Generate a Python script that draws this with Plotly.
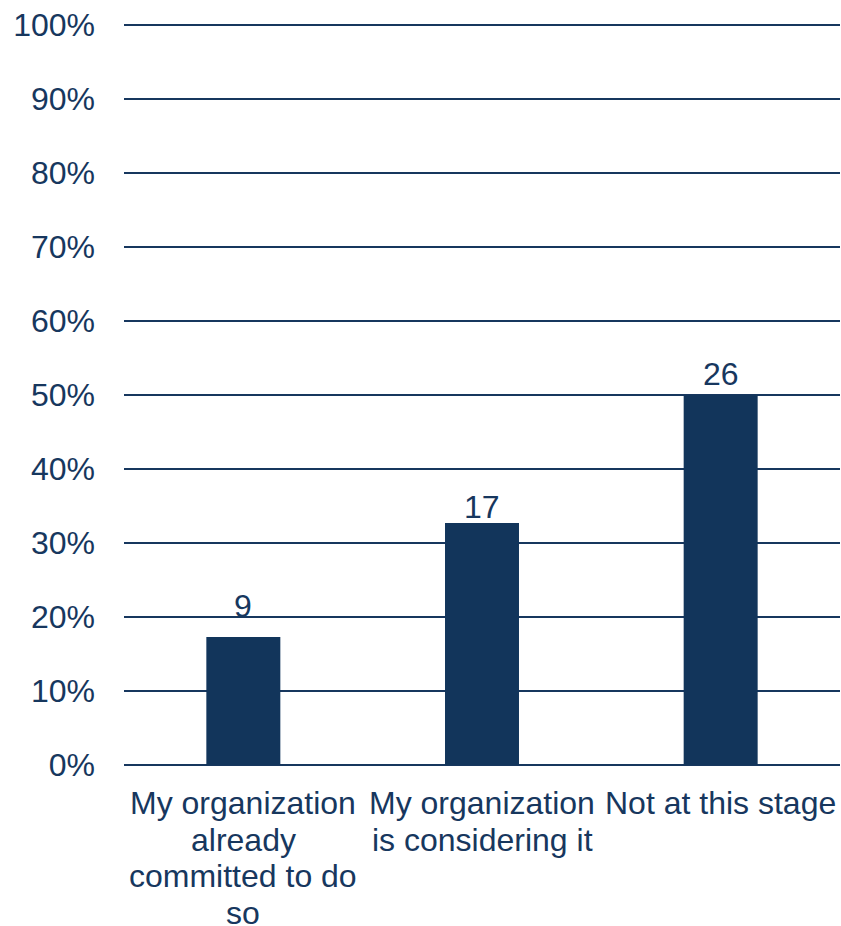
import plotly.graph_objects as go

categories = ["My organization<br>already<br>committed to do<br>so",
              "My organization<br>is considering it",
              "Not at this stage"]
counts = [9, 17, 26]
total = sum(counts)
shares = [c / total for c in counts]
tick_vals = [i / 10 for i in range(11)]
tick_text = [f"{i*10}%" for i in range(11)]

# styling
navy = "#17375E"
bar_color = "#12355B"
font_family = "Liberation Sans, Arial, sans-serif"
fsize = 32
label_shifts = [11, -4, 1]  # per-label vertical offset (px) of the value labels

fig = go.Figure(go.Bar(
    x=categories, y=shares,
    marker=dict(color=bar_color, line=dict(width=0)),
    width=0.31,
))

annotations = []
# value labels above bars
for cat, s, c, sh in zip(categories, shares, counts, label_shifts):
    annotations.append(dict(x=cat, y=s, xref="x", yref="y", text=str(c),
                            showarrow=False, yanchor="bottom", yshift=sh,
                            font=dict(size=fsize, color=navy, family=font_family)))
# category labels with tighter line spacing
for cat in categories:
    for i, line in enumerate(cat.split("<br>")):
        annotations.append(dict(x=cat, y=0, xref="x", yref="paper", text=line,
                                showarrow=False, yanchor="middle",
                                yshift=-38 - 36.5 * i,
                                font=dict(size=fsize, color=navy, family=font_family)))

fig.update_layout(
    width=841, height=926,
    margin=dict(l=124, r=1, t=24, b=161),
    paper_bgcolor="white", plot_bgcolor="white",
    font=dict(family=font_family, size=fsize, color=navy),
    showlegend=False,
    annotations=annotations,
    xaxis=dict(showticklabels=False, showgrid=False, ticks="",
               showline=False, zeroline=False, automargin=False),
    yaxis=dict(range=[0, 1.0015], tickvals=tick_vals, ticktext=tick_text,
               showgrid=True, gridcolor=navy, gridwidth=1.5,
               zeroline=True, zerolinecolor=navy, zerolinewidth=1.5,
               ticks="", ticklabelstandoff=28, automargin=False,
               ticklabeloverflow="allow",
               tickfont=dict(size=fsize, color=navy)),
)
fig.write_html("out.html", config={"displayModeBar": False},
               post_script="document.body.style.margin='0';document.body.style.overflow='hidden';")
